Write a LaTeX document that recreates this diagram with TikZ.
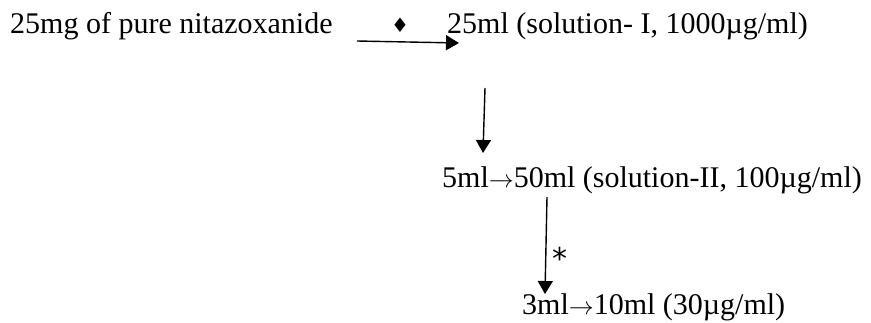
\documentclass[tikz,border=0pt]{standalone}
\usepackage{fontspec}
\setmainfont{Liberation Serif}
\newfontfamily\symfont{DejaVu Sans}
\usetikzlibrary{arrows.meta}
\newcommand{\rarr}{\ensuremath{\rightarrow}}
\begin{document}
\begin{tikzpicture}[x=1pt,y=-1pt,
  lbl/.style={inner sep=0pt,anchor=base west},
  big/.style={font=\fontsize{30}{34}\selectfont},
  arr/.style={-{Triangle[length=13pt,width=15pt]},line width=1.4pt}]
\useasboundingbox (0,0) rectangle (871,322);
\node[lbl,big] (a) at (10,33) {25mg of pure nitazoxanide};
\node[inner sep=0pt,font=\fontsize{20}{22}\selectfont] (d) at (400,25) {\symfont ♦};
\node[lbl,big] (b) at (447,33) {25ml (solution- I, 1000µg/ml)};
\node[lbl,big] (c) at (442,187) {5ml\rarr50ml (solution-II, 100µg/ml)};
\node[lbl,big] (e) at (522,314) {3ml\rarr10ml (30µg/ml)};
\coordinate (h1) at (357,41);
\coordinate (h2) at (459,43);
\coordinate (v1) at (485,88);
\coordinate (v2) at (483,153);
\coordinate (w1) at (547,197);
\coordinate (w2) at (545,294);
\draw[arr] (h1) -- (h2);
\draw[arr] (v1) -- (v2);
\draw[arr] (w1) -- (w2);
\node[inner sep=0pt,font=\fontsize{30}{32}\selectfont] (s) at (560,258) {\symfont *};
\end{tikzpicture}
\end{document}
